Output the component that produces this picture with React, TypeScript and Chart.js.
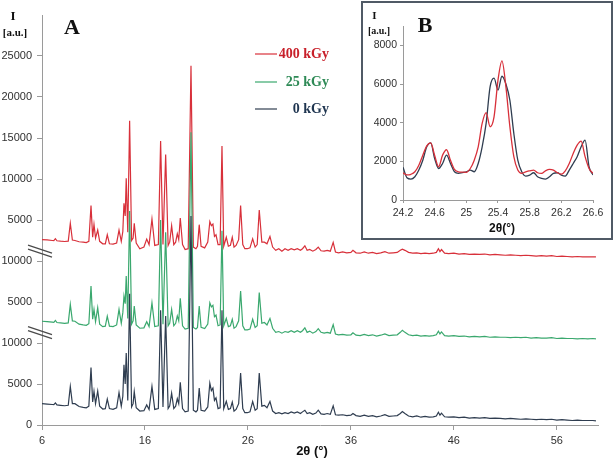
import React, { useEffect, useRef } from 'react';
import { Chart, registerables } from 'chart.js';

Chart.register(...registerables);

// ---------- Main pattern (A) ----------
const twoTheta = [
  6.0, 6.5, 7.0, 7.15, 7.3, 7.45, 7.8, 8.2, 8.55, 8.75,
  8.95, 9.2, 9.6, 10.0, 10.3, 10.55, 10.76, 10.92, 11.05, 11.2,
  11.41, 11.6, 11.9, 12.15, 12.34, 12.55, 12.9, 13.25, 13.48, 13.7,
  13.85, 13.96, 14.08, 14.18, 14.33, 14.51, 14.7, 14.85, 14.96, 15.15,
  15.5, 15.9, 16.17, 16.4, 16.68, 16.95, 17.3, 17.52, 17.75, 18.01,
  18.25, 18.4, 18.59, 18.8, 18.98, 19.14, 19.28, 19.43, 19.65, 19.9,
  20.2, 20.47, 20.7, 20.95, 21.1, 21.27, 21.45, 21.8, 22.1, 22.3,
  22.45, 22.6, 22.75, 22.9, 23.1, 23.3, 23.48, 23.65, 23.9, 24.1,
  24.3, 24.48, 24.65, 24.85, 25.1, 25.29, 25.5, 25.7, 25.95, 26.2,
  26.46, 26.7, 26.9, 27.1, 27.35, 27.6, 27.85, 28.14, 28.4, 28.7,
  29.0, 29.3, 29.6, 29.9, 30.2, 30.5, 30.8, 31.1, 31.3, 31.53,
  31.75, 32.0, 32.3, 32.6, 32.83, 33.1, 33.4, 33.7, 34.0, 34.28,
  34.5, 34.8, 35.2, 35.6, 36.0, 36.2, 36.5, 36.9, 37.3, 37.7,
  38.1, 38.5, 38.9, 39.3, 39.7, 40.1, 40.5, 40.8, 41.0, 41.25,
  41.6, 42.0, 42.4, 42.8, 43.2, 43.6, 44.0, 44.3, 44.5, 44.65,
  44.8, 45.1, 45.5, 46.0, 46.5, 47.0, 47.5, 48.0, 48.5, 49.0,
  49.5, 50.0, 50.5, 51.0, 51.5, 52.0, 52.5, 53.0, 53.5, 54.0,
  54.5, 55.0, 55.5, 56.0, 56.5, 57.0, 57.5, 58.0, 58.5, 59.0,
  59.5, 59.8,
];

const intensity0kGy = [
  2600, 2550, 2500, 2480, 2700, 2450, 2400, 2350, 2400, 4700,
  2600, 2600, 2250, 2150, 2100, 2300, 7000, 2800, 4100, 2600,
  4150, 2300, 1950, 2000, 3150, 2000, 1900, 2100, 3960, 2300,
  3500, 7350, 5000, 8790, 3000, 16000, 2200, 2600, 4080, 2100,
  1700, 1750, 2450, 1900, 4700, 1900, 2000, 14000, 2200, 13300,
  2000, 2300, 3880, 2000, 2300, 3200, 2600, 5200, 2000, 1600,
  1700, 25500, 1800, 1600, 1800, 4500, 1800, 1700, 2200, 5100,
  4200, 4500, 3000, 3300, 2000, 2100, 14000, 2000, 2900, 1900,
  2000, 2800, 1700, 1900, 2600, 6330, 2000, 1500, 1500, 1600,
  2850, 1800, 2000, 6330, 2300, 2400, 2100, 2860, 1700, 1400,
  1500, 1350, 1500, 1400, 1600, 1450, 1600, 1400, 1600, 1800,
  1400, 1500, 1300, 1450, 1800, 1350, 1300, 1400, 1300, 2330,
  1250, 1200, 1250, 1150, 1200, 1400, 1150, 1050, 1200, 1050,
  1150, 1000, 1100, 1250, 1050, 1100, 1150, 1400, 1630, 1400,
  1100, 1000, 1100, 950, 1050, 950, 1000, 1100, 1550, 1200,
  1450, 1000, 950, 1000, 900, 950, 850, 900, 850, 900,
  800, 850, 800, 750, 800, 750, 700, 750, 700, 650,
  700, 650, 700, 600, 650, 600, 550, 600, 550, 550,
  550, 500,
];

const intensity25kGy = [
  2650, 2600, 2550, 2520, 2750, 2500, 2450, 2400, 2450, 4700,
  2700, 2650, 2300, 2200, 2150, 2350, 6950, 2900, 4100, 2600,
  4300, 2300, 2000, 2050, 3270, 2050, 2000, 2200, 4100, 2400,
  3700, 5720, 4800, 8170, 3000, 16100, 2300, 2700, 4500, 2200,
  1800, 1850, 2600, 2000, 4900, 2000, 2100, 15000, 2300, 13500,
  2100, 2400, 4100, 2100, 2400, 3300, 2700, 5450, 2100, 1700,
  1800, 25700, 1900, 1700, 1900, 4500, 1900, 1750, 2300, 4900,
  4400, 4600, 3200, 3400, 2100, 2200, 13700, 2100, 3000, 2000,
  2100, 2900, 1800, 2000, 2700, 6340, 2100, 1600, 1600, 1700,
  2900, 1900, 2100, 6140, 2400, 2500, 2200, 3000, 1800, 1300,
  1400, 1200, 1400, 1300, 1500, 1300, 1500, 1300, 1500, 1850,
  1300, 1450, 1200, 1400, 1750, 1300, 1200, 1300, 1200, 2250,
  1100, 1000, 1050, 950, 1000, 1250, 950, 900, 1050, 900,
  1000, 850, 950, 1100, 900, 950, 1000, 1300, 1560, 1300,
  1000, 900, 950, 850, 900, 850, 900, 1000, 1430, 1100,
  1350, 900, 850, 900, 800, 850, 750, 800, 750, 800,
  700, 750, 700, 700, 650, 700, 650, 700, 600, 650,
  600, 600, 650, 550, 600, 550, 550, 500, 550, 500,
  550, 500,
];

const intensity400kGy = [
  2600, 2580, 2500, 2480, 2720, 2470, 2420, 2380, 2420, 4600,
  2550, 2500, 2350, 2300, 2250, 2400, 6750, 2900, 4470, 2800,
  3770, 2400, 2100, 2100, 3200, 2100, 2050, 2200, 3770, 2400,
  3600, 7050, 5500, 10100, 3500, 17100, 2500, 2800, 4600, 2200,
  1500, 1700, 2670, 2000, 5120, 1900, 2000, 14640, 2000, 13000,
  1900, 2300, 4300, 2000, 2300, 3330, 2600, 5240, 2000, 1400,
  1500, 23800, 1700, 1500, 1800, 4430, 1800, 1600, 2300, 4800,
  4300, 4500, 3000, 3200, 2000, 2000, 14030, 1800, 2900, 1800,
  1900, 2900, 1700, 1900, 2600, 6750, 2000, 1500, 1500, 1600,
  2700, 1700, 2000, 6220, 2300, 2300, 2100, 3000, 1700, 1300,
  1500, 1200, 1500, 1300, 1500, 1350, 1500, 1300, 1500, 1850,
  1300, 1400, 1200, 1400, 1700, 1250, 1200, 1300, 1200, 2270,
  1100, 1000, 1100, 1000, 1050, 1300, 1000, 950, 1100, 950,
  1050, 900, 1000, 1150, 950, 1000, 1050, 1300, 1450, 1300,
  1050, 950, 1000, 900, 950, 900, 950, 1050, 1500, 1150,
  1400, 950, 900, 950, 850, 900, 800, 850, 800, 850,
  750, 800, 750, 700, 750, 700, 650, 700, 650, 600,
  650, 600, 650, 550, 600, 550, 500, 550, 500, 500,
  500, 500,
];

// vertical stacking of the three patterns on the broken axis
const seriesNames = ['0 kGy', '25 kGy', '400 kGy'];
const seriesOffsets = [0, 10000, 20000];
const xTickValues = [6, 16, 26, 36, 46, 56];
const yTickValues = [0, 5000, 10000, 15000, 20000, 25000, 30000, 35000, 40000, 45000];
const yTickLabels = ['0', '5000', '10000', '5000', '10000', '5000', '10000', '15000', '20000', '25000'];
const axisBreakValues = [21200, 11270];

// ---------- Inset (B) ----------
const insetTheta = [
  24.2, 24.25, 24.3, 24.35, 24.4, 24.45, 24.5, 24.55, 24.6, 24.65,
  24.7, 24.75, 24.8, 24.85, 24.9, 24.95, 25.0, 25.05, 25.1, 25.15,
  25.2, 25.25, 25.3, 25.35, 25.4, 25.45, 25.5, 25.55, 25.6, 25.65,
  25.7, 25.75, 25.8, 25.85, 25.9, 25.95, 26.0, 26.05, 26.1, 26.15,
  26.2, 26.25, 26.3, 26.35, 26.4, 26.45, 26.5, 26.55, 26.6,
];
const inset0kGy = [
  1700, 1150, 1080, 1200, 1550, 2060, 2750, 2950, 2150, 1630,
  1890, 2320, 1890, 1460, 1380, 1420, 1460, 1550, 1460, 1890,
  2750, 3960, 5850, 6300, 5680, 6400, 6000, 5160, 3440, 2060,
  1460, 1240, 1290, 1410, 1200, 1120, 1080, 1200, 1380, 1410,
  1290, 1240, 1550, 1890, 2240, 2750, 3100, 1720, 1290,
];
const inset400kGy = [
  1400, 1300, 1330, 1460, 1800, 2320, 2800, 2950, 2300, 1720,
  2320, 2600, 2050, 1580, 1460, 1440, 1430, 1630, 2060, 2750,
  3960, 4520, 3790, 4300, 6200, 7200, 5850, 3790, 2240, 1550,
  1380, 1460, 1510, 1550, 1410, 1380, 1510, 1580, 1550, 1410,
  1340, 1510, 1890, 2410, 2840, 3050, 2240, 1630, 1380,
];
const insetXTicks = [24.2, 24.6, 25.0, 25.4, 25.8, 26.2, 26.6];
const insetXTickLabels = ['24.2', '24.6', '25', '25.4', '25.8', '26.2', '26.6'];
const insetYTicks = [0, 2000, 4000, 6000, 8000];
const insetYTickLabels = ['0', '2000', '4000', '6000', '8000'];

const DARK = '#2f3d50';
const GREEN = '#3aa86e';
const RED = '#d8303a';
const AXIS = '#9a9a9a';
const TICK_TEXT = '#303030';
const SANS = '"Liberation Sans", Arial, sans-serif';
const SERIF = '"Liberation Serif", "Times New Roman", serif';

function text(ctx: CanvasRenderingContext2D, s: string, x: number, y: number, font: string, color: string, align: CanvasTextAlign = 'center') {
  ctx.save();
  ctx.font = font;
  ctx.fillStyle = color;
  ctx.textAlign = align;
  ctx.textBaseline = 'middle';
  ctx.fillText(s, x, y);
  ctx.restore();
}

export default function App() {
  const mainRef = useRef<HTMLCanvasElement | null>(null);
  const insetRef = useRef<HTMLCanvasElement | null>(null);

  useEffect(() => {
    if (!mainRef.current || !insetRef.current) return;
    const series = [intensity0kGy, intensity25kGy, intensity400kGy];
    const colors = [DARK, GREEN, RED];

    const mainOverlay = {
      id: 'mainOverlay',
      afterDraw(chart: any) {
        const ctx: CanvasRenderingContext2D = chart.ctx;
        const yScale = chart.scales.y;
        const xLeft = chart.chartArea.left;
        // axis breaks
        ctx.save();
        ctx.strokeStyle = '#4a4a4a';
        ctx.lineWidth = 1.2;
        axisBreakValues.forEach((v) => {
          const y = yScale.getPixelForValue(v);
          [-2, 2].forEach((d) => {
            ctx.beginPath();
            ctx.moveTo(xLeft - 14, y - 4 + d);
            ctx.lineTo(xLeft + 10, y + 4 + d);
            ctx.stroke();
          });
        });
        ctx.restore();
        // titles
        text(ctx, 'A', 72, 28, `bold 22px ${SERIF}`, '#111');
        text(ctx, 'I', 13, 17, `bold 13px ${SERIF}`, '#111');
        text(ctx, '[a.u.]', 15, 33, `bold 11px ${SERIF}`, '#111');
        text(ctx, '2θ (°)', 312, 451, `bold 13px ${SANS}`, '#111');
        // legend
        const legendRows = [
          { name: seriesNames[2], line: RED, color: '#c8202a', y: 54 },
          { name: seriesNames[1], line: GREEN, color: '#2e8a56', y: 82 },
          { name: seriesNames[0], line: DARK, color: '#1f3550', y: 109 },
        ];
        legendRows.forEach((r) => {
          ctx.save();
          ctx.strokeStyle = r.line;
          ctx.lineWidth = 1.2;
          ctx.beginPath();
          ctx.moveTo(255, r.y);
          ctx.lineTo(277, r.y);
          ctx.stroke();
          ctx.restore();
          text(ctx, r.name, 329, r.y, `bold 14px ${SERIF}`, r.color, 'right');
        });
      },
    };

    const mainChart = new Chart(mainRef.current, {
      type: 'line',
      data: {
        datasets: series.map((vals, k) => ({
          label: seriesNames[k],
          data: twoTheta.map((t, i) => ({ x: t, y: vals[i] + seriesOffsets[k] })),
          borderColor: colors[k],
          backgroundColor: colors[k],
          borderWidth: 1.2,
          pointRadius: 0,
          tension: 0,
          fill: false,
        })),
      },
      options: {
        animation: false,
        responsive: false,
        maintainAspectRatio: false,
        layout: { padding: { left: 0, right: 16, top: 15, bottom: 0 } },
        plugins: { legend: { display: false }, tooltip: { enabled: false } },
        scales: {
          x: {
            type: 'linear',
            min: 6,
            max: 60,
            afterBuildTicks: (s: any) => { s.ticks = xTickValues.map((v) => ({ value: v })); },
            afterFit: (s: any) => { s.height = 35; },
            grid: { drawOnChartArea: false, drawTicks: true, tickLength: 5, color: AXIS },
            border: { color: AXIS, width: 1 },
            ticks: { color: TICK_TEXT, font: { family: SANS, size: 11 }, padding: 4, maxRotation: 0, autoSkip: false },
          },
          y: {
            type: 'linear',
            min: 0,
            max: 50000,
            afterBuildTicks: (s: any) => { s.ticks = yTickValues.map((v) => ({ value: v })); },
            afterFit: (s: any) => { s.width = 42; },
            grid: { drawOnChartArea: false, drawTicks: true, tickLength: 5, color: AXIS },
            border: { color: AXIS, width: 1 },
            ticks: {
              color: TICK_TEXT,
              font: { family: SANS, size: 11 },
              padding: 5,
              autoSkip: false,
              callback: (_v: any, i: number) => yTickLabels[i],
            },
          },
        },
      },
      plugins: [mainOverlay],
    });

    const insetOverlay = {
      id: 'insetOverlay',
      afterDraw(chart: any) {
        const ctx: CanvasRenderingContext2D = chart.ctx;
        text(ctx, 'I', 11.5, 13, `bold 11px ${SERIF}`, '#111');
        text(ctx, '[a.u.]', 16, 28, `bold 10px ${SERIF}`, '#111');
        text(ctx, 'B', 62, 23, `bold 22px ${SERIF}`, '#111');
        text(ctx, '2θ(°)', 139, 226, `bold 12px ${SANS}`, '#111');
      },
    };

    const insetChart = new Chart(insetRef.current, {
      type: 'line',
      data: {
        datasets: [
          {
            label: seriesNames[2],
            data: insetTheta.map((t, i) => ({ x: t, y: inset400kGy[i] })),
            borderColor: RED,
            borderWidth: 1.3,
            pointRadius: 0,
            cubicInterpolationMode: 'monotone',
          },
          {
            label: seriesNames[0],
            data: insetTheta.map((t, i) => ({ x: t, y: inset0kGy[i] })),
            borderColor: DARK,
            borderWidth: 1.3,
            pointRadius: 0,
            cubicInterpolationMode: 'monotone',
          },
        ],
      },
      options: {
        animation: false,
        responsive: false,
        maintainAspectRatio: false,
        layout: { padding: { left: 0, right: 18, top: 23, bottom: 0 } },
        plugins: { legend: { display: false }, tooltip: { enabled: false } },
        scales: {
          x: {
            type: 'linear',
            min: 24.2,
            max: 26.6,
            afterBuildTicks: (s: any) => { s.ticks = insetXTicks.map((v) => ({ value: v })); },
            afterFit: (s: any) => { s.height = 38; },
            grid: { drawOnChartArea: false, drawTicks: true, tickLength: 3, color: AXIS },
            border: { color: AXIS, width: 1 },
            ticks: {
              color: TICK_TEXT,
              font: { family: SANS, size: 10.5 },
              padding: 4,
              maxRotation: 0,
              autoSkip: false,
              callback: (_v: any, i: number) => insetXTickLabels[i],
            },
          },
          y: {
            type: 'linear',
            min: 0,
            max: 9000,
            afterBuildTicks: (s: any) => { s.ticks = insetYTicks.map((v) => ({ value: v })); },
            afterFit: (s: any) => { s.width = 40; },
            grid: { drawOnChartArea: false, drawTicks: true, tickLength: 3, color: AXIS },
            border: { color: AXIS, width: 1 },
            ticks: {
              color: TICK_TEXT,
              font: { family: SANS, size: 10.5 },
              padding: 3,
              autoSkip: false,
              callback: (_v: any, i: number) => insetYTickLabels[i],
            },
          },
        },
      },
      plugins: [insetOverlay],
    });

    return () => {
      mainChart.destroy();
      insetChart.destroy();
    };
  }, []);

  return (
    <div style={{ position: 'absolute', left: 0, top: 0, width: 614, height: 460, background: '#fff', overflow: 'hidden' }}>
      <canvas ref={mainRef} width={614} height={460} style={{ position: 'absolute', left: 0, top: 0, display: 'block' }} />
      <div
        style={{
          position: 'absolute',
          left: 361,
          top: 1,
          width: 252,
          height: 239,
          border: '2px solid #505a66',
          boxSizing: 'border-box',
          background: '#fff',
        }}
      >
        <canvas ref={insetRef} width={248} height={235} style={{ display: 'block' }} />
      </div>
    </div>
  );
}
